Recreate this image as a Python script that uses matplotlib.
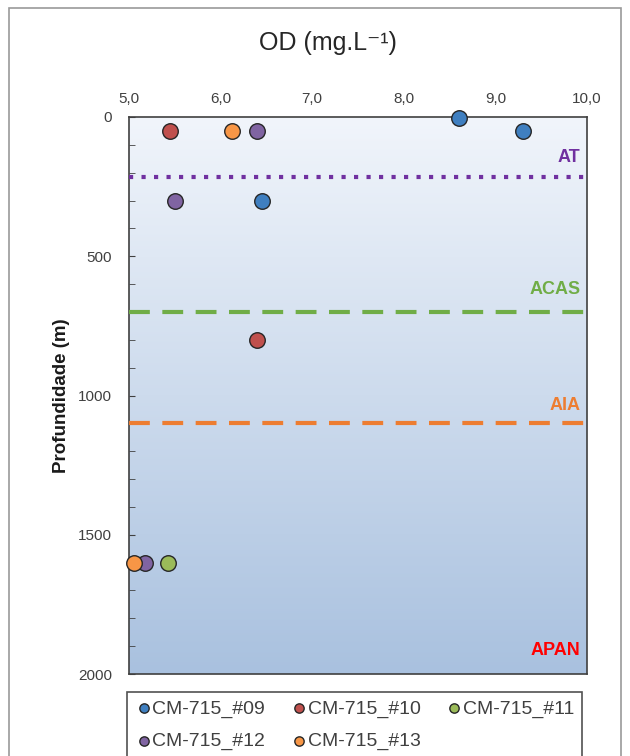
import matplotlib
matplotlib.use("Agg")
import matplotlib.pyplot as plt
import numpy as np
from matplotlib.colors import LinearSegmentedColormap

series = ["CM-715_#09", "CM-715_#10", "CM-715_#11", "CM-715_#12", "CM-715_#13"]
colors = ["#3f7fc0", "#c0504d", "#9bbb59", "#8064a2", "#f79646"]
od_09 = [8.6, 9.3, 6.45]
z_09 = [5, 50, 300]
od_10 = [5.45, 6.4]
z_10 = [50, 800]
od_11 = [5.43]
z_11 = [1600]
od_12 = [6.4, 5.5, 5.17]
z_12 = [50, 300, 1600]
od_13 = [6.12, 5.05]
z_13 = [50, 1600]
xs = [od_09, od_10, od_11, od_12, od_13]
zs = [z_09, z_10, z_11, z_12, z_13]

masses = ["AT", "ACAS", "AIA"]
mass_depths = [215, 700, 1100]
mass_colors = ["#7030a0", "#70ad47", "#ed7d31"]
mass_styles = [(0, (1, 2)), (0, (5, 3)), (0, (5, 3))]
label_depths = [145, 620, 1035]

plt.rcParams['font.family'] = ['Liberation Sans', 'DejaVu Sans']
fig = plt.figure(figsize=(6.3, 7.56), dpi=100)
ax = fig.add_axes([129/630, 1-674/756, (587-129)/630, (674-117)/756])

cmap = LinearSegmentedColormap.from_list("bg", ["#f1f5fb", "#a9c1df"])
grad = np.linspace(0, 1, 256).reshape(-1, 1)
ax.imshow(grad, extent=[5, 10, 2000, 0], aspect="auto", cmap=cmap, zorder=0)

handles = []
for name, x, z, c in zip(series, xs, zs, colors):
    h = ax.scatter(x, z, s=125, color=c, edgecolor="#262626", linewidth=1.0, zorder=5,
                   label=name, clip_on=False)
    handles.append(h)

for m, d, c, ls, ld in zip(masses, mass_depths, mass_colors, mass_styles, label_depths):
    ax.axhline(d, color=c, lw=3, linestyle=ls, zorder=3)
    ax.text(9.93, ld, m, color=c, fontsize=13, fontweight="bold", ha="right", va="center")
ax.text(9.93, 1915, "APAN", color="#ff0000", fontsize=13, fontweight="bold", ha="right", va="center")

ax.set_xlim(5, 10)
ax.set_ylim(2000, 0)
ax.xaxis.tick_top()
ax.set_xticks([5, 6, 7, 8, 9, 10])
ax.set_xticklabels(["5,0", "6,0", "7,0", "8,0", "9,0", "10,0"])
ax.set_yticks([0, 500, 1000, 1500, 2000])
ax.set_yticks(np.arange(0, 2001, 100), minor=True)
ax.tick_params(axis="both", labelsize=11, colors="#404040")
ax.tick_params(axis="x", length=0, pad=8)
ax.tick_params(axis="y", which="both", direction="in", length=4, color="#404040", pad=12)
for s in ax.spines.values():
    s.set_color("#404040")
    s.set_linewidth(1.2)
ax.set_ylabel("Profundidade (m)", fontsize=13.5, fontweight="bold", labelpad=6, color="#1a1a1a")

fig.text(328/630, 1-43/756, "OD (mg.L\u207b\u00b9)", fontsize=18, ha="center", va="center", color="#262626")

order = [0, 3, 1, 4, 2]
leg = fig.legend([handles[i] for i in order], [series[i] for i in order],
                 loc="upper left", bbox_to_anchor=(127/630, 0, 455/630, 1-692/756),
                 mode="expand", ncol=3, frameon=True,
                 fancybox=False, edgecolor="#262626", fontsize=14, handletextpad=0.0,
                 columnspacing=1.0, markerscale=0.6, borderpad=0.4, labelspacing=0.75,
                 handlelength=0.9, borderaxespad=0)
leg.get_frame().set_linewidth(1.2)
for t in leg.get_texts():
    t.set_color("#404040")

fig.patches.append(plt.Rectangle((9/630, -10/756), 612/630, (756 - 8 + 10)/756,
                                 transform=fig.transFigure, fill=False,
                                 edgecolor="#9a9a9a", lw=1.2))
fig.savefig("out.png", dpi=100)
